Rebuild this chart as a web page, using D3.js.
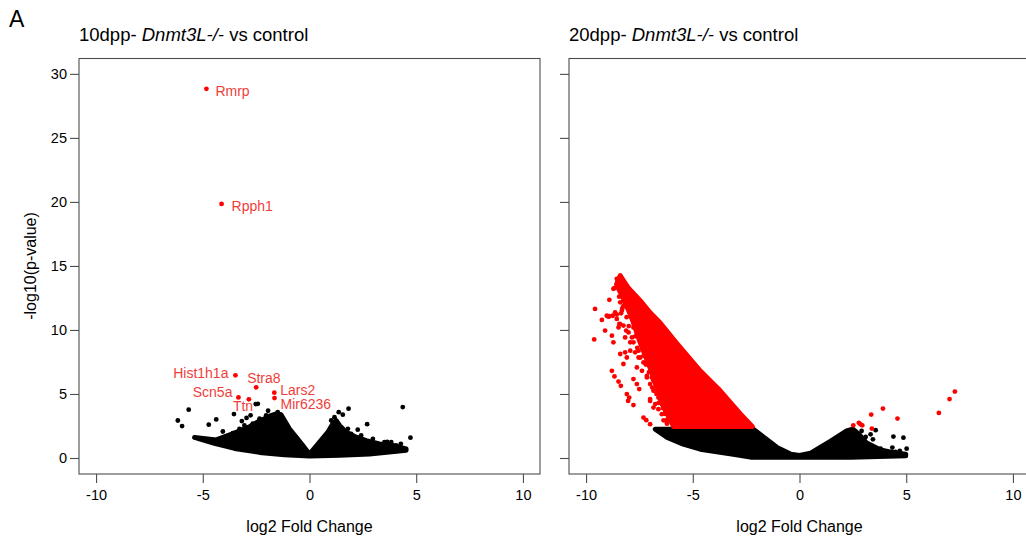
<!DOCTYPE html>
<html>
<head>
<meta charset="utf-8">
<script src="https://cdn.jsdelivr.net/npm/d3@7"></script>
<style>
  body { margin: 0; background: #fff; }
  svg text { font-family: "Liberation Sans", Arial, Helvetica, sans-serif; white-space: pre; }
</style>
</head>
<body>
<svg id="chart" width="1026" height="542"></svg>
<script>
var xTicks = [-10, -5, 0, 5, 10],
  yTicks = [0, 5, 10, 15, 20, 25, 30];

// 10dpp - labelled hits (log2FC, -log10 p)
var hitGenes10 = ["Rmrp", "Rpph1", "Hist1h1a", "Stra8", "Lars2", "Mir6236", "Scn5a", "Ttn"],
  hitFC10 = [-4.83, -4.12, -3.47, -2.50, -1.65, -1.64, -3.33, -2.84],
  hitP10 = [28.83, 19.84, 6.46, 5.52, 5.10, 4.68, 4.73, 4.58];

// 10dpp - loose black points
var other10 = [
  [-5.66, 3.77], [-6.17, 2.93], [-5.97, 2.49], [-4.37, 3.01], [-4.72, 2.6], [-4.06, 2.07],
  [-3.54, 3.43], [-3.17, 2.88], [-2.95, 3.13], [-2.76, 3.33], [-2.52, 4.21], [-2.42, 4.23],
  [-1.94, 3.69], [-2.38, 2.86], [-3.42, 1.8], [-1.64, 3.33], [-1.41, 3.38],
  [1.37, 3.58], [1.56, 3.38], [1.83, 3.85], [4.37, 3.98], [2.7, 2.64], [2.26, 2.21],
  [4.73, 1.59], [4.28, 1.11], [3.64, 1.25], [3.83, 1.24], [3.88, 0.82], [3.28, 0.92], [3.59, 0.9],
  [-3.59, 1.94], [-3.28, 2.28], [-3.05, 2.54], [-2.66, 2.68], [-2.34, 3.07], [-2.03, 3.33],
  [-1.49, 3.58], [-1.25, 3.07], [1.02, 2.93], [1.17, 3.19], [1.8, 2.28], [1.95, 1.89],
  [2.42, 1.76], [2.97, 1.5], [3.51, 1.24], [4.06, 0.98]
];

// 10dpp - outline of the dense cloud of points
var core10 = [
  [-5.39, 1.6], [-4.45, 1.13], [-3.51, 0.74], [-2.34, 0.43], [-1.17, 0.25], [0, 0.14],
  [1.41, 0.2], [2.81, 0.31], [4.53, 0.6],
  [4.53, 0.72], [3.9, 0.98], [3.28, 1.11], [2.66, 1.37], [2.19, 1.63], [1.72, 2.02], [1.41, 2.54],
  [1.25, 2.93], [1.09, 2.68], [0.86, 2.02], [0.47, 1.24], [0, 0.3],
  [-0.31, 0.98], [-0.62, 1.63], [-0.94, 2.28], [-1.17, 2.93], [-1.33, 3.38], [-1.56, 3.46],
  [-1.87, 3.27], [-2.11, 3.07], [-2.44, 2.8], [-2.81, 2.45], [-3.61, 1.9], [-4.37, 1.42]
];

// 20dpp - outline of the dense black cloud (not significant)
var core20 = [
  [-6.76, 2.25], [-2.16, 2.25], [-1.03, 0.8], [-0.42, 0.31], [0, 0.2],
  [0.52, 0.39], [1.46, 1.33], [2.21, 2.13], [2.49, 2.27], [2.77, 1.88], [3.15, 1.17],
  [3.8, 0.63], [4.51, 0.39], [4.98, 0.31],
  [4.98, 0.16], [2.39, 0.06], [0, 0.06], [-2.3, 0.06], [-3.1, 0.29], [-4.65, 0.68],
  [-5.45, 1.07], [-6.2, 1.59]
];

// 20dpp - outline of the dense band of significant down genes
var band20 = [
  [-8.40, 14.25], [-8.03, 13.31], [-7.46, 12.29], [-6.99, 11.35], [-6.53, 10.57], [-5.73, 8.93],
  [-4.65, 6.81], [-3.71, 5.25], [-2.77, 3.45], [-2.2, 2.45],
  [-5.9, 2.45], [-6.5, 4.46], [-6.95, 6.81], [-7.45, 8.93], [-7.85, 10.88], [-8.25, 12.45], [-8.58, 13.55]
];

// 20dpp - loose significant down genes
var sigDown20 = [
  [-9.58, 11.64], [-9.62, 9.26], [-9.26, 10.78], [-8.91, 12.35], [-8.72, 13.21], [-8.56, 13.99],
  [-8.37, 14.17], [-8.95, 11.04], [-8.64, 11.38], [-8.56, 11.2], [-8.44, 10.47], [-8.79, 9.55],
  [-8.72, 9.03], [-8.4, 8.12], [-8.79, 6.81], [-8.67, 6.37], [-8.48, 5.97], [-8.37, 5.64],
  [-8.09, 4.99], [-7.98, 4.72], [-7.78, 4.13], [-7.31, 3.16], [-7.18, 2.95], [-7.0, 2.64],
  [-7.78, 6.16], [-7.62, 5.77], [-7.51, 5.38], [-7.0, 4.6], [-6.76, 4.21], [-6.61, 3.81],
  [-6.45, 3.42], [-6.21, 2.76], [-7.62, 7.07], [-7.38, 6.81], [-7.15, 6.42], [-6.92, 6.29],
  [-6.68, 5.64], [-6.53, 5.11], [-7.93, 8.38], [-7.7, 8.25], [-7.54, 7.85], [-8.17, 9.42],
  [-7.93, 9.03], [-7.78, 10.2], [-7.62, 9.81], [-8.25, 12.29], [-8.09, 12.04], [-7.97, 12.69],
  [-8.32, 11.51], [-7.85, 10.86], [-6.06, 3.16], [-5.9, 3.94], [-5.74, 4.72], [-6.21, 4.99],
  [-6.06, 6.03], [-5.9, 6.81], [-6.84, 7.6], [-6.61, 7.07], [-6.37, 6.55], [-7.15, 8.64],
  [-6.84, 8.38], [-6.65, 7.85], [-7.38, 10.47], [-7.23, 9.95], [-7.0, 9.42], [-5.59, 3.68],
  [-5.35, 3.16], [-5.2, 2.64], [-7.54, 11.64], [-7.38, 11.12], [-8.25, 10.34], [-8.12, 9.95],
  [-8.53, 13.94], [-8.67, 13.26], [-8.92, 11.07], [-8.36, 11.3], [-8.01, 13.08], [-7.85, 12.94],
  [-8.09, 12.55], [-8.25, 7.34], [-8.03, 4.46], [-6.84, 3.94], [-6.29, 4.99], [-5.82, 5.9],
  [-9.11, 9.95],
  [-9.03, 11.11], [-8.75, 11.11], [-8.56, 10.86], [-8.4, 10.46], [-8.48, 10.2], [-8.01, 9.81],
  [-7.85, 9.42], [-7.78, 9.03], [-7.54, 8.38], [-7.46, 7.85], [-7.31, 7.46], [-8.17, 8.25],
  [-8.09, 7.85], [-7.15, 6.29], [-7.0, 5.77], [-6.84, 5.25], [-6.61, 4.72], [-6.45, 4.2],
  [-6.29, 3.68], [-7.0, 4.46], [-6.06, 3.68], [-5.9, 3.16], [-5.74, 2.77], [-6.37, 2.94],
  [-6.21, 2.68], [-6.61, 7.07], [-6.37, 6.68], [-6.21, 6.29], [-6.84, 9.16], [-6.68, 8.77],
  [-7.15, 9.95], [-7.0, 9.55], [-7.62, 10.73], [-7.46, 10.34], [-7.38, 11.64], [-7.23, 11.25],
  [-7.93, 11.77], [-7.78, 11.51], [-8.4, 12.16], [-8.25, 11.9], [-5.67, 4.72], [-5.51, 4.33],
  [-5.35, 3.94], [-5.82, 5.64], [-5.67, 5.25], [-6.21, 7.34], [-6.06, 6.94],
  [-6.2, 3.0], [-6.4, 3.9], [-6.7, 5.0], [-6.9, 5.5], [-7.2, 7.3], [-7.3, 8.0],
  [-7.6, 8.6], [-7.7, 9.5], [-8.0, 10.3], [-8.1, 11.0], [-8.45, 12.6], [-6.3, 3.45],
  [-6.85, 6.05], [-7.1, 7.8], [-7.4, 9.1], [-8.3, 11.7], [-6.6, 4.3], [-7.05, 6.7]
];

// 20dpp - significant up genes
var sigUp20 = [
  [7.28, 5.19], [7.03, 4.6], [6.53, 3.52], [4.59, 3.08], [3.91, 3.86], [3.36, 3.39],
  [2.52, 2.55], [2.78, 2.75], [2.86, 2.62], [2.94, 2.55], [3.39, 2.3]
];

// 20dpp - loose black points on the right
var other20 = [
  [3.57, 2.17], [3.33, 1.85], [3.1, 1.64], [3.44, 1.46], [4.4, 1.67], [4.87, 1.59],
  [4.35, 0.81], [5.02, 0.73], [3.8, 0.73], [4.7, 0.55], [4.5, 0.47], [3.96, 0.34],
  [2.91, 2.11], [2.75, 1.6], [2.86, 1.3], [2.98, 1.0]
];

var svg = d3.select("#chart"),
  margin = {top: 58.5, left: 79},
  width = 461,
  height = 415.5,
  gap = 490,
  r = 2.4,
  axisColor = "#4d4d4d",
  labelRed = "#ef3e3a";

var x = d3.scaleLinear().domain([-10.8, 10.8]).range([0, width]);
var y = d3.scaleLinear().domain([-1.25, 31.2]).range([height, 0]);

var blob = d3.line()
  .x(function (d) { return x(d[0]); })
  .y(function (d) { return y(d[1]); })
  .curve(d3.curveLinearClosed);

svg.append("text")
  .attr("x", 9)
  .attr("y", 27)
  .attr("font-size", 23)
  .text("A");

function panel(i, stage, showLabels) {
  var g = svg.append("g")
    .attr("transform", "translate(" + (margin.left + i * gap) + "," + margin.top + ")");

  var t = g.append("text")
    .attr("x", 0)
    .attr("y", 41 - margin.top)
    .attr("font-size", 18.5);
  t.append("tspan").text(stage + "- ");
  t.append("tspan").attr("font-style", "italic").text("Dnmt3L-/-");
  t.append("tspan").text(" vs control");

  g.append("rect")
    .attr("width", width)
    .attr("height", height)
    .attr("fill", "none")
    .attr("stroke", axisColor)
    .attr("stroke-width", 1.1);

  var xa = g.append("g")
    .attr("transform", "translate(0," + height + ")")
    .call(d3.axisBottom(x).tickValues(xTicks).tickSize(9).tickPadding(7)
      .tickFormat(function (d) { return String(d); }));

  var ya = g.append("g")
    .call(d3.axisLeft(y).tickValues(yTicks).tickSize(9).tickPadding(3)
      .tickFormat(function (d) { return showLabels ? String(d) : ""; }));

  [xa, ya].forEach(function (a) {
    a.attr("font-family", null).attr("font-size", 14.5);
    a.select(".domain").remove();
    a.selectAll("line").attr("stroke", axisColor).attr("stroke-width", 1.1);
    a.selectAll("text").attr("fill", "#000");
  });

  g.append("text")
    .attr("x", width / 2)
    .attr("y", 532 - margin.top)
    .attr("text-anchor", "middle")
    .attr("font-size", 16)
    .text("log2 Fold Change");

  if (showLabels) {
    g.append("text")
      .attr("transform", "translate(" + (36 - margin.left) + "," + (266 - margin.top) + ") rotate(-90)")
      .attr("text-anchor", "middle")
      .attr("font-size", 16)
      .text("-log10(p-value)");
  }
  return g;
}

function dots(g, data, color) {
  g.append("g").selectAll("circle")
    .data(data)
    .join("circle")
    .attr("cx", function (d) { return x(d[0]); })
    .attr("cy", function (d) { return y(d[1]); })
    .attr("r", r)
    .attr("fill", color);
}

function cloud(g, outline, color) {
  g.append("path")
    .attr("d", blob(outline))
    .attr("fill", color)
    .attr("stroke", color)
    .attr("stroke-width", r * 2)
    .attr("stroke-linejoin", "round");
}

// left panel: 10dpp
var g10 = panel(0, "10dpp", true);
cloud(g10, core10, "#000");
dots(g10, other10, "#000");

var hits10 = hitGenes10.map(function (name, k) {
  return {name: name, fc: hitFC10[k], p: hitP10[k]};
});

// label offsets in px (dx, dy, anchor)
var labelPos = {
  Rmrp: [9, 2, "start"], Rpph1: [10, 2, "start"], Hist1h1a: [-7, -2, "end"],
  Stra8: [-9, -9, "start"], Lars2: [6, -3, "start"], Mir6236: [6, 6, "start"],
  Scn5a: [-6, -5, "end"], Ttn: [-16, 7, "start"]
};

dots(g10, hits10.map(function (d) { return [d.fc, d.p]; }), "#ff0000");

g10.append("g").selectAll("text")
  .data(hits10)
  .join("text")
  .attr("x", function (d) { return x(d.fc) + labelPos[d.name][0]; })
  .attr("y", function (d) { return y(d.p) + labelPos[d.name][1]; })
  .attr("dy", "0.35em")
  .attr("text-anchor", function (d) { return labelPos[d.name][2]; })
  .attr("font-size", 14)
  .attr("fill", labelRed)
  .text(function (d) { return d.name; });

// right panel: 20dpp
var g20 = panel(1, "20dpp", false);
cloud(g20, core20, "#000");
dots(g20, other20, "#000");
cloud(g20, band20, "#ff0000");
dots(g20, sigDown20, "#ff0000");
dots(g20, sigUp20, "#ff0000");
</script>
</body>
</html>
